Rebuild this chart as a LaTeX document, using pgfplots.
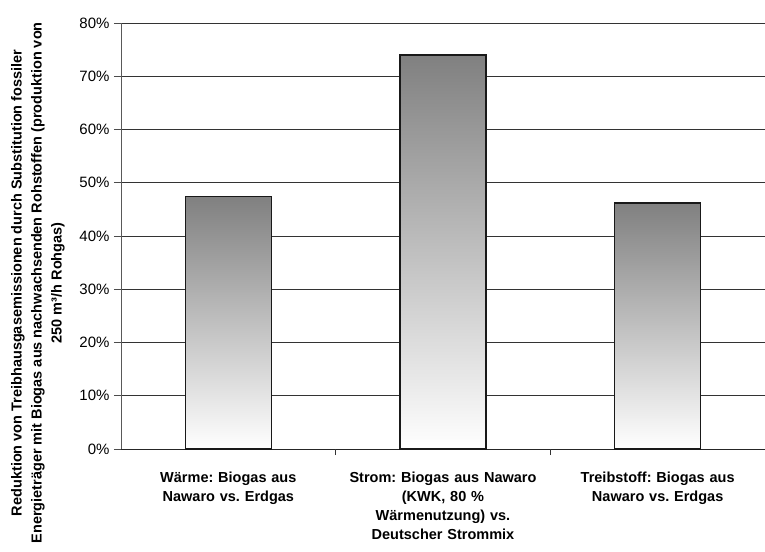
\documentclass[border=0pt]{standalone}
\usepackage{pgfplots}
\pgfplotsset{compat=1.18}
\usepackage{fontspec}
\setmainfont{Liberation Sans}
\frenchspacing
\begin{document}
\begin{tikzpicture}
\path[use as bounding box] (-121bp,-103bp) rectangle (644bp,449bp);
\begin{axis}[
  at={(0,0)}, anchor=south west,
  scale only axis, width=644bp, height=426bp,
  xmin=-0.5, xmax=2.5, ymin=0, ymax=80,
  enlargelimits=false,
  axis lines=left,
  axis line style={-, line width=0.8bp},
  x axis line style={black!85},
  y axis line style={black!65},
  ybar, bar width=0.4,
  ymajorgrids,
  grid style={black!80, line width=0.8bp},
  ytick={0,10,...,80},
  yticklabel={\pgfmathprintnumber{\tick}\%},
  /pgf/number format/assume math mode=true,
  ytick align=outside, ytick pos=left,
  major tick length=7bp,
  ytick style={black!70, line width=0.8bp},
  yticklabel style={font=\fontsize{15bp}{17bp}\selectfont, xshift=-1bp},
  xtick={0,1,2},
  xticklabels={{Wärme: Biogas aus\\Nawaro vs. Erdgas},{Strom: Biogas aus Nawaro\\(KWK, 80 \%\\Wärmenutzung) vs.\\Deutscher Strommix},{Treibstoff: Biogas aus\\Nawaro vs. Erdgas}},
  xtick style={draw=none},
  xticklabel style={font=\bfseries\fontsize{14.5bp}{19bp}\selectfont, align=center, text width=210bp, anchor=north, yshift=-12bp},
  extra x ticks={0.5,1.5,2.5},
  extra x tick labels={},
  extra x tick style={tick align=outside, tick pos=left, major tick length=6bp, xtick style={draw=black!80, line width=0.8bp}, grid=none},
  ylabel={Reduktion von Treibhausgasemissionen durch Substitution fossiler\\Energieträger mit Biogas aus nachwachsenden Rohstoffen (produktion von\\250 m³/h Rohgas)},
  every axis y label/.style={at={(axis description cs:-0.129,0.39)}, rotate=90, anchor=center, align=center, font=\bfseries\fontsize{14.5bp}{20bp}\selectfont},
  barstyle/.style={draw=black!90, line width=1.2bp, top color={rgb,255:red,128;green,128;blue,128}, bottom color=white, bar shift=0pt},
]
\addplot[barstyle] coordinates {(0,47.4)};
\addplot[barstyle] coordinates {(1,74.0)};
\addplot[barstyle] coordinates {(2,46.2)};
\end{axis}
\end{tikzpicture}
\end{document}
